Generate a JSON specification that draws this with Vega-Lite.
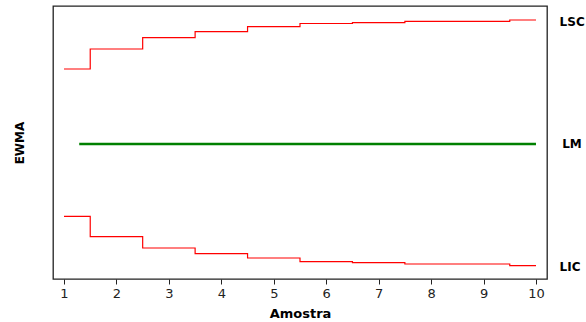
{
  "$schema": "https://vega.github.io/schema/vega-lite/v6.json",
  "width": 494,
  "height": 273,
  "autosize": {"type": "none"},
  "padding": {"left": 53, "top": 6, "right": 39, "bottom": 43},
  "background": "white",
  "config": {
    "view": {"stroke": "#222222", "strokeWidth": 1.3},
    "font": "DejaVu Sans"
  },
  "datasets": {
    "limits": [
      {"amostra": 1, "valor": 75, "serie": "LSC"},
      {"amostra": 2, "valor": 95, "serie": "LSC"},
      {"amostra": 3, "valor": 106.3, "serie": "LSC"},
      {"amostra": 4, "valor": 112.3, "serie": "LSC"},
      {"amostra": 5, "valor": 117.3, "serie": "LSC"},
      {"amostra": 6, "valor": 120.5, "serie": "LSC"},
      {"amostra": 7, "valor": 121.3, "serie": "LSC"},
      {"amostra": 8, "valor": 122.7, "serie": "LSC"},
      {"amostra": 9, "valor": 122.7, "serie": "LSC"},
      {"amostra": 10, "valor": 124, "serie": "LSC"},
      {"amostra": 1, "valor": -72.3, "serie": "LIC"},
      {"amostra": 2, "valor": -92.7, "serie": "LIC"},
      {"amostra": 3, "valor": -104, "serie": "LIC"},
      {"amostra": 4, "valor": -109.7, "serie": "LIC"},
      {"amostra": 5, "valor": -114, "serie": "LIC"},
      {"amostra": 6, "valor": -117.7, "serie": "LIC"},
      {"amostra": 7, "valor": -118.7, "serie": "LIC"},
      {"amostra": 8, "valor": -120, "serie": "LIC"},
      {"amostra": 9, "valor": -120, "serie": "LIC"},
      {"amostra": 10, "valor": -121.7, "serie": "LIC"}
    ],
    "center": [
      {"amostra": 1.29, "valor": 0},
      {"amostra": 10, "valor": 0}
    ],
    "labels": [
      {"amostra": 10.45, "valor": 122.5, "texto": "LSC"},
      {"amostra": 10.5, "valor": 0, "texto": "LM"},
      {"amostra": 10.45, "valor": -122.5, "texto": "LIC"}
    ]
  },
  "encoding": {
    "x": {
      "field": "amostra",
      "type": "quantitative",
      "scale": {"domain": [0.79, 10.21], "nice": false, "zero": false},
      "axis": {
        "title": "Amostra",
        "values": [1, 2, 3, 4, 5, 6, 7, 8, 9, 10],
        "format": "d",
        "grid": false,
        "domain": false,
        "tickColor": "#222222",
        "tickSize": 5,
        "labelFontSize": 13,
        "labelColor": "#222222",
        "labelPadding": 3,
        "titleFontSize": 13,
        "titleFontWeight": "bold",
        "titleColor": "#000000",
        "titlePadding": 7
      }
    },
    "y": {
      "field": "valor",
      "type": "quantitative",
      "scale": {"domain": [-135, 138], "nice": false, "zero": false},
      "axis": {
        "title": "EWMA",
        "labels": false,
        "ticks": false,
        "domain": false,
        "grid": false,
        "titleFontSize": 12,
        "titleFontWeight": "bold",
        "titleColor": "#000000",
        "titlePadding": 27
      }
    }
  },
  "layer": [
    {
      "data": {"name": "limits"},
      "mark": {"type": "line", "interpolate": "step", "color": "#ff0000", "strokeWidth": 1.2},
      "encoding": {"detail": {"field": "serie"}}
    },
    {
      "data": {"name": "center"},
      "mark": {"type": "line", "color": "#008000", "strokeWidth": 2.5},
      "encoding": {}
    },
    {
      "data": {"name": "labels"},
      "mark": {"type": "text", "align": "left", "baseline": "middle", "fontWeight": "bold", "fontSize": 12, "color": "#000000"},
      "encoding": {"text": {"field": "texto"}}
    }
  ]
}
